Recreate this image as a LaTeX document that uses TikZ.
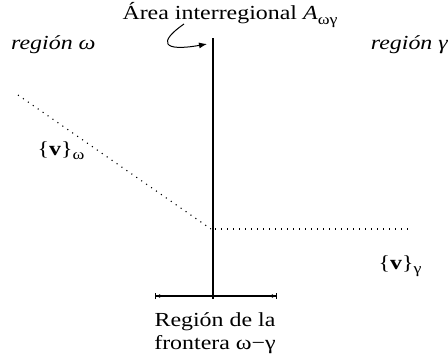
\documentclass[tikz,border=0pt]{standalone}
\usepackage{fontspec}
\setmainfont{Liberation Serif}[FakeStretch=1.2]
\newcommand{\lowsub}[1]{\raisebox{-0.45ex}{\fontsize{15}{15}\selectfont #1}}
\usetikzlibrary{arrows.meta,positioning}
\begin{document}
\begin{tikzpicture}[
    x=1bp, y=-1bp,
    label/.style={inner sep=1bp, font=\fontsize{20}{23}\selectfont},
    regionlabel/.style={label, font=\fontsize{20}{23}\selectfont\itshape},
    velline/.style={line width=1.1bp, dash pattern=on 1.1bp off 4.9bp},
    wall/.style={line width=1.4bp}
]
    \useasboundingbox (0,0) rectangle (448,358);

    % Nodes
    \node[label] (area) at (230,15) {Área interregional \textit{A}\lowsub{ωγ}};
    \node[regionlabel, anchor=west] (romega) at (10,45) {región ω};
    \node[regionlabel, anchor=east] (rgamma) at (449,45) {región γ};
    \node[label] (vomega) at (61,151) {\{\textbf{v}\}\lowsub{ω}};
    \node[label] (vgamma) at (400,266) {\{\textbf{v}\}\lowsub{γ}};
    \node[label, align=center] (front) at (215,333) {Región de la\\frontera ω−γ};

    \coordinate (wtop) at (213,38);
    \coordinate (wbot) at (213,299);
    \coordinate (vstart) at (18,95);
    \coordinate (vmid) at (211,229);
    \coordinate (vend) at (408,229);
    \coordinate (bleft) at (155,296);
    \coordinate (bright) at (277,296);
    \coordinate (tip) at (207,44);

    % Edges
    \draw[wall] (wtop) -- (wbot);
    \draw[velline] (vstart) -- (vmid);
    \draw[velline] (vmid) ++(4,0) -- (vend);
    \draw[line width=1.1bp, {Bar[width=6bp]Latex[length=4bp,width=4bp]}-{Latex[length=4bp,width=4bp]Bar[width=6bp]}] (bleft) -- (bright);
    \draw[line width=1bp, -{Latex[length=8bp,width=6bp]}] (184,24) .. controls (158,42) and (162,52) .. (tip);
\end{tikzpicture}
\end{document}
